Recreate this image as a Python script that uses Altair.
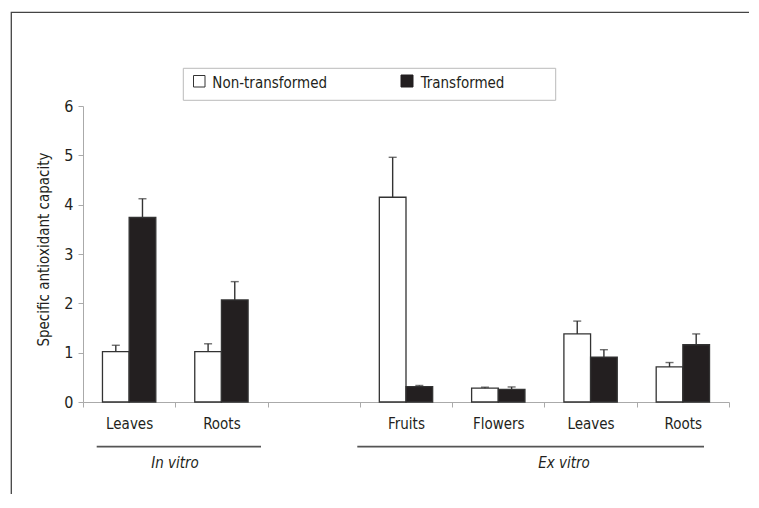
import altair as alt
import pandas as pd

# ---- data ----
slots = ["Leaves (in vitro)", "Roots (in vitro)", "gap", "Fruits", "Flowers",
         "Leaves (ex vitro)", "Roots (ex vitro)"]
tissues = ["Leaves (in vitro)", "Roots (in vitro)", "Fruits", "Flowers",
           "Leaves (ex vitro)", "Roots (ex vitro)"]
series_names = ["Non-transformed", "Transformed"]
non_transformed = [1.02, 1.02, 4.15, 0.28, 1.38, 0.71]
non_transformed_err = [0.13, 0.16, 0.81, 0.02, 0.26, 0.09]
transformed = [3.74, 2.07, 0.31, 0.255, 0.91, 1.16]
transformed_err = [0.38, 0.37, 0.025, 0.05, 0.15, 0.22]
y_ticks = [0, 1, 2, 3, 4, 5, 6]
group_labels = ["In vitro", "Ex vitro"]

rows = []
for i, t in enumerate(tissues):
    rows.append({"slot": t, "series": series_names[0], "value": non_transformed[i],
                 "upper": non_transformed[i] + non_transformed_err[i]})
    rows.append({"slot": t, "series": series_names[1], "value": transformed[i],
                 "upper": transformed[i] + transformed_err[i]})
df = pd.DataFrame(rows)

FONT = "DejaVu Sans Condensed, DejaVu Sans, sans-serif"
FS = 15
TXT = "#231f20"
DARK = "#333333"

x_enc = alt.X("slot:N", scale=alt.Scale(domain=slots, paddingInner=0, paddingOuter=0),
              axis=alt.Axis(title=None, labelAngle=0, tickBand="extent", tickSize=5,
                            tickColor="#aaaaaa", domainColor="#aaaaaa",
                            labelFont=FONT, labelFontSize=FS, labelColor=TXT,
                            labelBaseline="alphabetic", labelPadding=21.7,
                            labelExpr="datum.label == 'gap' ? '' : split(datum.label, ' (')[0]"))
xo_enc = alt.XOffset("series:N", scale=alt.Scale(domain=series_names, paddingInner=0,
                                                  paddingOuter=0.73))
y_enc = alt.Y("value:Q", scale=alt.Scale(domain=[0, 6], nice=False, zero=True),
              axis=alt.Axis(values=y_ticks, grid=False, tickSize=5, tickColor="#aaaaaa",
                            domainColor="#aaaaaa", labelFont=FONT, labelFontSize=FS + 1,
                            labelColor=TXT, labelPadding=5,
                            title="Specific antioxidant capacity", titleFont=FONT,
                            titleFontSize=FS, titleFontWeight="normal", titleColor=TXT,
                            titleAngle=-90, titleX=-35, titleY=143, titleAlign="center",
                            titleBaseline="alphabetic"))

base = alt.Chart(df)

bars = base.mark_bar(stroke=DARK, strokeWidth=1.3).encode(
    x=x_enc, xOffset=xo_enc, y=y_enc,
    fill=alt.Fill("series:N", scale=alt.Scale(domain=series_names, range=["#ffffff", "#231f20"]),
                  legend=None))

err_rule = base.mark_rule(color=DARK, strokeWidth=1.4).encode(
    x=x_enc, xOffset=xo_enc, y=alt.Y("value:Q"), y2=alt.Y2("upper:Q"))

err_cap = base.mark_tick(color=DARK, thickness=1.4, size=8, orient="horizontal").encode(
    x=x_enc, xOffset=xo_enc, y=alt.Y("upper:Q"))

one = pd.DataFrame({"k": [0]})

frame = alt.Chart(one).mark_rect(fill=None, stroke="#444444", strokeWidth=1.3).encode(
    x=alt.value(-71.7), x2=alt.value(720), y=alt.value(-93.7), y2=alt.value(420))

legend_box = alt.Chart(one).mark_rect(fill="#ffffff", stroke="#bbbbbb", strokeWidth=1).encode(
    x=alt.value(100.3), x2=alt.value(472.7), y=alt.value(-37.7), y2=alt.value(-5.7))

leg_white = alt.Chart(one).mark_rect(fill="#ffffff", stroke=DARK, strokeWidth=1).encode(
    x=alt.value(110.5), x2=alt.value(122), y=alt.value(-30.5), y2=alt.value(-19))
leg_black = alt.Chart(one).mark_rect(fill="#231f20", stroke="#231f20", strokeWidth=1).encode(
    x=alt.value(318), x2=alt.value(330), y=alt.value(-31), y2=alt.value(-19))

leg_text = alt.Chart(pd.DataFrame({"label": series_names, "px": [129.3, 337.7]})).mark_text(
    font=FONT, fontSize=FS, color=TXT, align="left", baseline="alphabetic").encode(
    x=alt.X("px:Q", scale=None), y=alt.value(-18.5), text="label:N")

group_df = pd.DataFrame({"label": group_labels, "x0": [13.7, 274.3], "x1": [178, 621],
                         "xc": [92, 481]})
group_lines = alt.Chart(group_df).mark_rule(color="#555555", strokeWidth=1.8).encode(
    x=alt.X("x0:Q", scale=None), x2="x1:Q", y=alt.value(340.7))
group_text = alt.Chart(group_df).mark_text(
    font=FONT, fontSize=FS, fontStyle="italic", color=TXT, baseline="alphabetic").encode(
    x=alt.X("xc:Q", scale=None), y=alt.value(361.7), text="label:N")

chart = alt.layer(frame, legend_box, leg_white, leg_black, leg_text, bars, err_rule, err_cap,
                  group_lines, group_text).properties(
    width=646, height=296,
    padding={"left": 75, "top": 98, "right": 20, "bottom": 92},
    autosize=alt.AutoSizeParams(type="none"),
    background="white",
).configure_view(stroke=None)

chart.save("out.html", embed_options={"renderer": "svg", "actions": False})
